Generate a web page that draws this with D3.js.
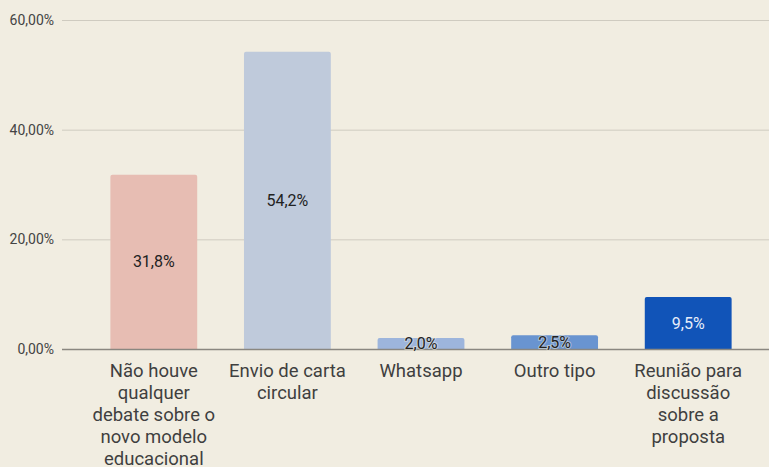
<!DOCTYPE html>
<html>
<head>
<meta charset="utf-8">
<script src="https://cdn.jsdelivr.net/npm/d3@7"></script>
<style>
  html, body { margin: 0; padding: 0; background: #f1ede1; }
  svg { display: block; font-family: Roboto, "Noto Sans", sans-serif; }
</style>
</head>
<body>
<div id="chart"></div>
<script>
var categories = [
  ["Não houve", "qualquer", "debate sobre o", "novo modelo", "educacional"],
  ["Envio de carta", "circular"],
  ["Whatsapp"],
  ["Outro tipo"],
  ["Reunião para", "discussão", "sobre a", "proposta"]
];
var values = [31.8, 54.2, 2.0, 2.5, 9.5];
var valueLabels = ["31,8%", "54,2%", "2,0%", "2,5%", "9,5%"];
var barColors = ["#e7bdb3", "#bfcadb", "#9db5dc", "#6994d0", "#1154b8"];
var yTicks = [0, 20, 40, 60];
var yTickLabels = ["0,00%", "20,00%", "40,00%", "60,00%"];

var w = 769, h = 467;

var svg = d3.select("#chart").append("svg")
  .attr("width", w)
  .attr("height", h);

svg.append("rect").attr("width", w).attr("height", h).attr("fill", "#f1ede1");

var x = d3.scaleBand()
  .domain(d3.range(values.length))
  .range([87, 755])
  .paddingInner(0.35)
  .paddingOuter(0.175);

var y = d3.scaleLinear()
  .domain([0, 60])
  .range([349, 20]);

// gridlines
svg.selectAll("line.grid")
  .data(yTicks.filter(function(d){ return d > 0; }))
  .enter().append("line")
  .attr("class", "grid")
  .attr("x1", 62).attr("x2", w)
  .attr("y1", function(d){ return y(d) + 0.5; })
  .attr("y2", function(d){ return y(d) + 0.5; })
  .attr("stroke", "#cfcbc0")
  .attr("stroke-width", 1);

// y tick labels
svg.selectAll("text.ytick")
  .data(yTicks)
  .enter().append("text")
  .attr("class", "ytick")
  .attr("x", 54)
  .attr("y", function(d){ return y(d); })
  .attr("dy", "0.35em")
  .attr("text-anchor", "end")
  .attr("font-size", 14)
  .attr("fill", "#444")
  .text(function(d, i){ return yTickLabels[i]; });

// bars
svg.selectAll("path.bar")
  .data(values)
  .enter().append("path")
  .attr("class", "bar")
  .attr("fill", function(d, i){ return barColors[i]; })
  .attr("d", function(d, i){
    var x0 = x(i), bw = x.bandwidth(), y0 = y(d), y1 = y(0), r = 2;
    return "M" + x0 + "," + y1 +
      "V" + (y0 + r) + "Q" + x0 + "," + y0 + " " + (x0 + r) + "," + y0 +
      "H" + (x0 + bw - r) + "Q" + (x0 + bw) + "," + y0 + " " + (x0 + bw) + "," + (y0 + r) +
      "V" + y1 + "Z";
  });

// baseline
svg.append("line")
  .attr("x1", 62).attr("x2", w)
  .attr("y1", y(0) + 0.5).attr("y2", y(0) + 0.5)
  .attr("stroke", "#8a8780")
  .attr("stroke-width", 1.5);

// value labels
svg.selectAll("text.val")
  .data(values)
  .enter().append("text")
  .attr("class", "val")
  .attr("x", function(d, i){ return x(i) + x.bandwidth() / 2; })
  .attr("y", function(d){ return (y(d) + y(0)) / 2; })
  .attr("dy", "0.35em")
  .attr("text-anchor", "middle")
  .attr("font-size", 16)
  .attr("fill", function(d, i){ return i === 4 ? "#e8eefa" : "#222"; })
  .attr("stroke", function(d){ return d < 5 ? "rgba(241,237,225,0.5)" : "none"; })
  .attr("stroke-width", 2)
  .attr("paint-order", "stroke")
  .text(function(d, i){ return valueLabels[i]; });

// category labels
var cat = svg.selectAll("text.cat")
  .data(categories)
  .enter().append("text")
  .attr("class", "cat")
  .attr("text-anchor", "middle")
  .attr("font-size", 18.5)
  .attr("fill", "#3f3f3f");

cat.selectAll("tspan")
  .data(function(d, i){ return d.map(function(s){ return {s: s, i: i}; }); })
  .enter().append("tspan")
  .attr("x", function(d){ return x(d.i) + x.bandwidth() / 2; })
  .attr("y", function(d, j){ return 377 + j * 22; })
  .text(function(d){ return d.s; });
</script>
</body>
</html>
